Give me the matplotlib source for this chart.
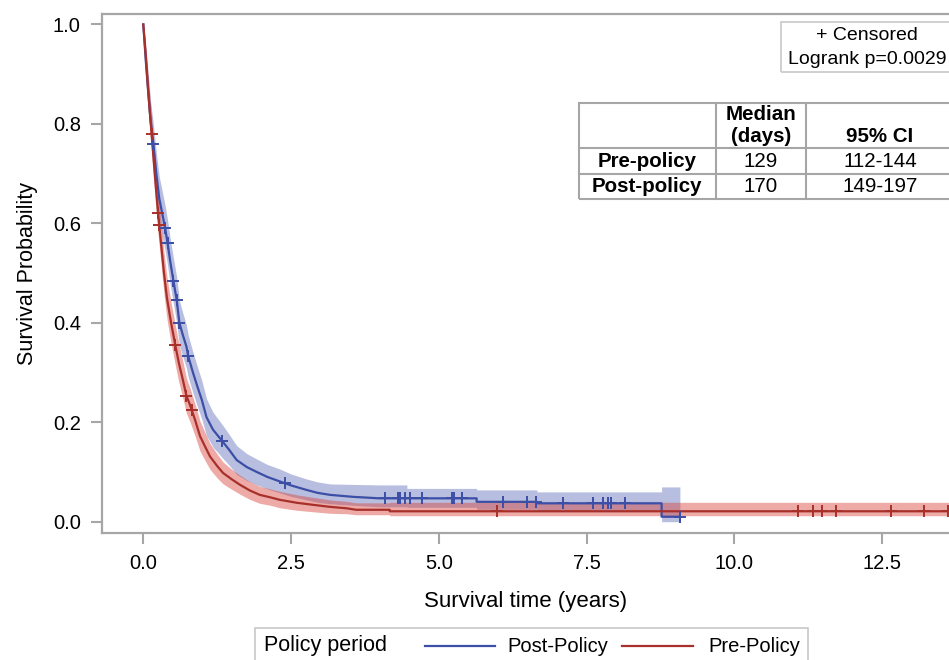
import matplotlib
matplotlib.use("Agg")
import matplotlib.pyplot as plt
import numpy as np
from matplotlib.patches import Rectangle
from matplotlib.lines import Line2D

plt.rcParams['font.family'] = ['Liberation Sans', 'DejaVu Sans']

# Post-policy KM estimate (years, survival, 95% band), vertices
post_t = [0, 0.04, 0.08, 0.12, 0.17, 0.22, 0.27, 0.32, 0.37, 0.41, 0.46, 0.51, 0.565, 0.61, 0.67,
          0.73, 0.76, 0.84, 0.92, 0.99, 1.07, 1.18, 1.35, 1.45, 1.58, 1.75, 1.92, 2.10, 2.31, 2.50,
          2.76, 2.95, 3.16, 3.55, 4.00, 4.46, 4.46, 5.64, 5.64, 6.66, 6.66, 8.77, 8.77, 9.08]
post_s = [1.0, 0.93, 0.87, 0.81, 0.76, 0.70, 0.65, 0.62, 0.59, 0.561, 0.52, 0.484, 0.446, 0.40, 0.375,
          0.352, 0.333, 0.30, 0.27, 0.245, 0.21, 0.185, 0.16, 0.145, 0.124, 0.11, 0.10, 0.09, 0.081, 0.073,
          0.064, 0.058, 0.054, 0.050, 0.047, 0.047, 0.047, 0.047, 0.040, 0.040, 0.037, 0.037, 0.010, 0.010]
post_lo = [1.0, 0.90, 0.835, 0.772, 0.720, 0.658, 0.606, 0.575, 0.545, 0.515, 0.474, 0.438, 0.400, 0.355, 0.331,
           0.309, 0.291, 0.259, 0.230, 0.206, 0.173, 0.150, 0.127, 0.114, 0.095, 0.083, 0.074, 0.066, 0.058, 0.051,
           0.044, 0.039, 0.036, 0.033, 0.030, 0.030, 0.029, 0.029, 0.025, 0.025, 0.022, 0.022, 0.0, 0.0]
post_hi = [1.0, 0.955, 0.905, 0.848, 0.800, 0.742, 0.694, 0.665, 0.635, 0.607, 0.566, 0.530, 0.492, 0.445, 0.419,
           0.395, 0.375, 0.341, 0.310, 0.284, 0.247, 0.220, 0.193, 0.176, 0.153, 0.137, 0.126, 0.115, 0.106, 0.096,
           0.086, 0.080, 0.076, 0.075, 0.074, 0.074, 0.067, 0.067, 0.064, 0.064, 0.060, 0.060, 0.070, 0.070]
post_cens = [0.17, 0.37, 0.41, 0.51, 0.565, 0.61, 0.76, 1.33, 2.40, 4.09, 4.31, 4.35, 4.43, 4.51, 4.71,
             5.22, 5.26, 5.39, 6.09, 6.49, 6.64, 7.11, 7.61, 7.77, 7.87, 7.91, 8.15, 9.08]

# Pre-policy KM estimate
pre_t = [0, 0.04, 0.08, 0.12, 0.16, 0.20, 0.25, 0.30, 0.35, 0.40, 0.47, 0.54, 0.60, 0.67, 0.73,
         0.79, 0.875, 0.96, 1.05, 1.13, 1.25, 1.35, 1.50, 1.64, 1.80, 1.97, 2.15, 2.31, 2.60, 2.87,
         3.15, 3.44, 3.60, 4.17, 4.17, 13.70]
pre_s = [1.0, 0.94, 0.87, 0.81, 0.75, 0.69, 0.62, 0.56, 0.50, 0.45, 0.40, 0.356, 0.32, 0.285, 0.253,
         0.235, 0.205, 0.172, 0.15, 0.131, 0.112, 0.098, 0.085, 0.074, 0.063, 0.054, 0.049, 0.044, 0.038, 0.034,
         0.030, 0.027, 0.024, 0.024, 0.021, 0.021]
pre_lo = [1.0, 0.915, 0.838, 0.773, 0.712, 0.650, 0.579, 0.518, 0.458, 0.408, 0.359, 0.316, 0.281, 0.248, 0.218,
          0.201, 0.173, 0.142, 0.122, 0.105, 0.088, 0.076, 0.065, 0.055, 0.045, 0.037, 0.033, 0.028, 0.023, 0.020,
          0.017, 0.016, 0.014, 0.014, 0.012, 0.012]
pre_hi = [1.0, 0.962, 0.900, 0.845, 0.788, 0.730, 0.661, 0.602, 0.542, 0.492, 0.441, 0.396, 0.359, 0.322, 0.288,
          0.269, 0.237, 0.202, 0.178, 0.157, 0.136, 0.120, 0.105, 0.093, 0.081, 0.071, 0.066, 0.061, 0.054, 0.049,
          0.044, 0.041, 0.038, 0.038, 0.039, 0.039]
pre_cens = [0.14, 0.25, 0.27, 0.54, 0.73, 0.82, 5.98, 11.08, 11.33, 11.48, 11.72, 12.66, 13.21, 13.62]

# summary table
tbl_rows = ["Pre-policy", "Post-policy"]
tbl_median = ["129", "170"]
tbl_ci = ["112-144", "149-197"]
logrank_p = "0.0029"

blue = '#3c4ea5'
red = '#a8302a'
grey = '#a6a6a6'

W, H = 949, 660
fig = plt.figure(figsize=(W / 100, H / 100), dpi=100)


def fx(px):
    return px / W


def fy(py):
    return 1 - py / H


ax = fig.add_axes([fx(101.7), fy(533), 1 - fx(101.7), fy(14) - fy(533)])

ax.fill_between(post_t, post_lo, post_hi, color='#5566b5', alpha=0.42, lw=0)
ax.fill_between(pre_t, pre_lo, pre_hi, color='#d8443c', alpha=0.45, lw=0)
ax.plot(post_t, post_s, color=blue, lw=1.6)
ax.plot(pre_t, pre_s, color=red, lw=1.6)
ax.plot(post_cens, np.interp(post_cens, post_t, post_s), ls='none', marker='+', ms=9, mew=1.4, color=blue)
ax.plot(pre_cens, np.interp(pre_cens, pre_t, pre_s), ls='none', marker='+', ms=9, mew=1.4, color=red)

ax.set_xlim(-0.704, 13.633)
ax.set_ylim(-0.0227, 1.021)
ax.set_xticks([0, 2.5, 5, 7.5, 10, 12.5])
ax.set_yticks([0, 0.2, 0.4, 0.6, 0.8, 1.0])
ax.xaxis.set_major_formatter(matplotlib.ticker.FormatStrFormatter('%.1f'))
ax.yaxis.set_major_formatter(matplotlib.ticker.FormatStrFormatter('%.1f'))
ax.tick_params(length=8, width=1.5, color=grey, labelsize=14.5, pad=7)
for side in ['left', 'bottom', 'top']:
    ax.spines[side].set_color(grey)
    ax.spines[side].set_linewidth(1.6)
ax.spines['right'].set_visible(False)
ax.set_xlabel('Survival time (years)', fontsize=16, labelpad=13)
ax.set_ylabel('Survival Probability', fontsize=15.5, labelpad=11)

# censored / logrank box
fig.add_artist(Rectangle((fx(781), fy(72)), fx(175), fy(22) - fy(72), transform=fig.transFigure,
                         fill=False, ec='#c8c8c8', lw=1.2))
fig.text(fx(867), fy(36), '+ Censored', ha='center', va='center', fontsize=14)
fig.text(fx(867), fy(60), 'Logrank p=' + logrank_p, ha='center', va='center', fontsize=14)

# table
x0, x1, x2, x3 = 579, 715.7, 805.7, 960
y0, y1, y2, y3 = 103.3, 148.3, 174, 199.3
fig.add_artist(Rectangle((fx(x0), fy(y3)), fx(x3 - x0), fy(y0) - fy(y3), transform=fig.transFigure,
                         fill=False, ec=grey, lw=1.5))
for yy in [y1, y2]:
    fig.add_artist(Line2D([fx(x0), fx(x3)], [fy(yy), fy(yy)], transform=fig.transFigure, color=grey, lw=1.5))
for xx in [x1, x2]:
    fig.add_artist(Line2D([fx(xx), fx(xx)], [fy(y0), fy(y3)], transform=fig.transFigure, color=grey, lw=1.5))
fs = 14.8
fig.text(fx((x1 + x2) / 2), fy(114), 'Median', ha='center', va='center', fontsize=fs, weight='bold')
fig.text(fx((x1 + x2) / 2), fy(137), '(days)', ha='center', va='center', fontsize=fs, weight='bold')
fig.text(fx(880), fy(137), '95% CI', ha='center', va='center', fontsize=fs, weight='bold')
for k, yy in enumerate([161.5, 186.5]):
    fig.text(fx((x0 + x1) / 2), fy(yy), tbl_rows[k], ha='center', va='center', fontsize=fs, weight='bold')
    fig.text(fx((x1 + x2) / 2), fy(yy), tbl_median[k], ha='center', va='center', fontsize=fs)
    fig.text(fx(880), fy(yy), tbl_ci[k], ha='center', va='center', fontsize=fs)

# legend
fig.add_artist(Rectangle((fx(255), fy(670)), fx(553), fy(628) - fy(670), transform=fig.transFigure,
                         fill=False, ec='#c8c8c8', lw=1.2))
fig.text(fx(264), fy(646), 'Policy period', ha='left', va='center', fontsize=15.5)
fig.add_artist(Line2D([fx(425), fx(495)], [fy(646), fy(646)], transform=fig.transFigure, color=blue, lw=1.6))
fig.text(fx(507), fy(646), 'Post-Policy', ha='left', va='center', fontsize=14.5)
fig.add_artist(Line2D([fx(622), fx(693)], [fy(646), fy(646)], transform=fig.transFigure, color=red, lw=1.6))
fig.text(fx(708), fy(646), 'Pre-Policy', ha='left', va='center', fontsize=14.5)

plt.savefig('out.png', dpi=100)
